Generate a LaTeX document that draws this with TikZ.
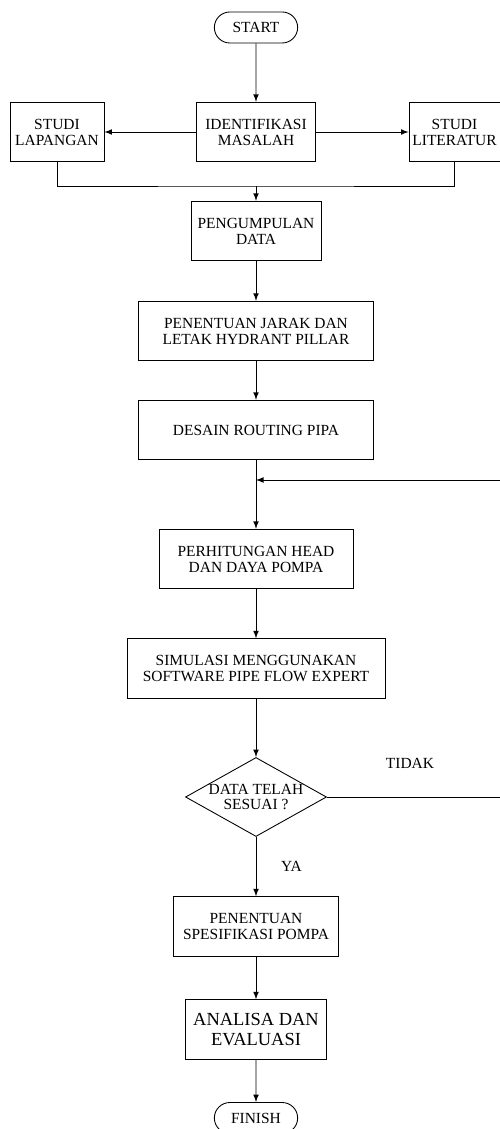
\documentclass[tikz,border=0pt]{standalone}
\usepackage{fontspec}
\setmainfont{Liberation Serif}
\usetikzlibrary{shapes.misc,shapes.geometric}

\begin{document}
\begin{tikzpicture}[>=latex,line width=0.5pt,
    every node/.style={font=\fontsize{8.8}{9.1}\selectfont},
    box/.style={draw,align=center,minimum height=1.19cm,inner sep=1pt},
    term/.style={draw,rounded rectangle,minimum width=1.9cm,minimum height=0.62cm},
    cond/.style={draw,diamond,aspect=2,inner sep=0pt,align=center,minimum width=2.82cm,minimum height=1.58cm}]
    \useasboundingbox (0,0) rectangle (10,-22.58);

    \node (1) at (5.12,-0.55) [term]{START};
    \node (2) at (5.12,-2.64) [box,minimum width=2.38cm]{IDENTIFIKASI\\MASALAH};
    \node (3) at (1.14,-2.64) [box,minimum width=1.88cm]{STUDI\\LAPANGAN};
    \node (4) at (9.09,-2.64) [box,minimum width=1.82cm]{STUDI\\LITERATUR};
    \node (5) at (5.12,-4.62) [box,minimum width=2.6cm]{PENGUMPULAN\\DATA};
    \node (6) at (5.12,-6.62) [box,minimum width=4.7cm]{PENENTUAN JARAK DAN\\LETAK HYDRANT PILLAR};
    \node (7) at (5.12,-8.60) [box,minimum width=4.7cm]{DESAIN ROUTING PIPA};
    \node (8) at (5.12,-11.18) [box,minimum width=3.88cm]{PERHITUNGAN HEAD\\DAN DAYA POMPA};
    \node (9) at (5.12,-13.37) [box,minimum width=5.16cm]{SIMULASI MENGGUNAKAN\\SOFTWARE PIPE FLOW EXPERT};
    \node (10) at (5.12,-15.94) [cond]{\makebox[1.3cm]{DATA TELAH}\\SESUAI ?};
    \node (11) at (5.12,-18.53) [box,minimum width=3.3cm]{PENENTUAN\\SPESIFIKASI POMPA};
    \node (12) at (5.12,-20.59) [box,minimum width=2.82cm,font=\fontsize{10.5}{11}\selectfont]{ANALISA DAN\\EVALUASI};
    \node (13) at (5.12,-22.36) [term]{FINISH};

    \node (tidak) at (8.2,-15.26) {TIDAK};
    \node (ya) at (5.83,-17.33) {YA};

    \coordinate (j) at (5.12,-3.72);
    \coordinate (m) at (5.12,-9.60);
    \coordinate (r) at (10.05,-9.60);

    \draw[->] (1) -- (2);
    \draw[->] (2) -- (3);
    \draw[->] (2) -- (4);
    \draw (3.south) |- (j) -| (4.south);
    \draw[->] (j) -- (5);
    \draw[->] (5) -- (6);
    \draw[->] (6) -- (7);
    \draw[->] (7) -- (8);
    \draw[->] (8) -- (9);
    \draw[->] (9) -- (10);
    \draw[->] (10.east) -| (r) -- (m);
    \draw[->] (10) -- (11);
    \draw[->] (11) -- (12);
    \draw[->] (12) -- (13);

  \end{tikzpicture}
\end{document}
